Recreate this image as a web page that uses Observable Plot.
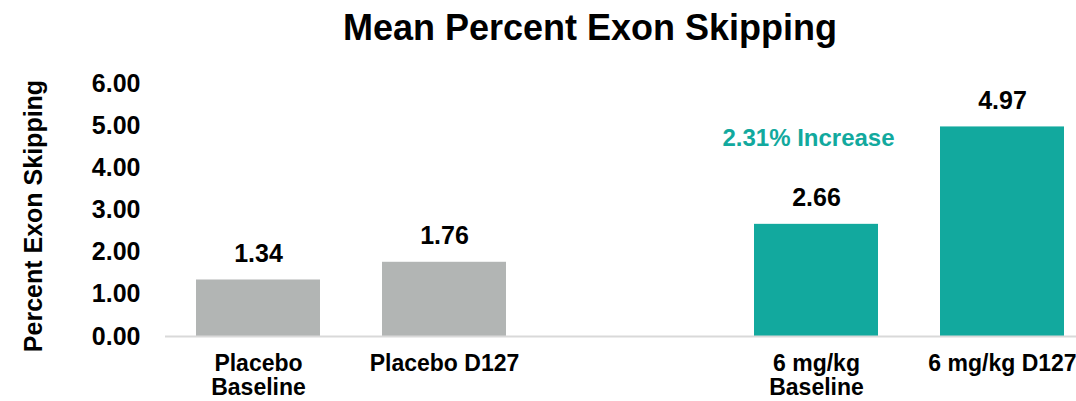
<!DOCTYPE html>
<html><head><meta charset="utf-8">
<script src="https://cdn.jsdelivr.net/npm/d3@7"></script>
<script src="https://cdn.jsdelivr.net/npm/@observablehq/plot@0.6"></script>
<style>
body{margin:0;overflow:hidden;background:#fff;font-family:"Liberation Sans",Arial,sans-serif;}
#title{width:1076px;box-sizing:border-box;padding-left:104px;text-align:center;font-size:36px;font-weight:bold;height:56px;line-height:56px;color:#000;}
#chart svg{overflow:hidden;display:block;}
</style></head><body>
<div id="title">Mean Percent Exon Skipping</div>
<div id="chart"></div>
<script>
const categories = ["Placebo Baseline", "Placebo D127", "", "6 mg/kg Baseline", "6 mg/kg D127"];
const tickLabels = ["Placebo\nBaseline", "Placebo D127", "", "6 mg/kg\nBaseline", "6 mg/kg D127"];
const groups = ["Placebo", "Placebo", null, "6 mg/kg", "6 mg/kg"];
const values = [1.34, 1.76, null, 2.66, 4.97];
const yTicks = [0, 1, 2, 3, 4, 5, 6];
const groupNames = ["Placebo", "6 mg/kg"];
const groupColors = ["#b2b5b4", "#12a99e"];
const annotationText = "2.31% Increase";
const annotationCategory = "6 mg/kg Baseline";
const annotationValue = 4.69;
const yLabel = "Percent Exon Skipping";

const rows = categories.map((c, i) => ({cat: c, group: groups[i], value: values[i]})).filter(d => d.value != null);
const font = '"Liberation Sans", Arial, sans-serif';

const plot = Plot.plot({
  width: 1076, height: 345,
  marginTop: 27, marginBottom: 65, marginLeft: 165, marginRight: 0,
  style: {fontFamily: font, fontSize: "24px", fontWeight: "bold", color: "#000", background: "#fff"},
  x: {domain: categories, range: [165, 1095], paddingInner: 1/3, paddingOuter: 1/6, axis: null},
  y: {domain: [0, 6], axis: null},
  color: {domain: groupNames, range: groupColors},
  marks: [
    Plot.barY(rows, {x: "cat", y: "value", fill: "group"}),
    Plot.ruleY([0], {stroke: "#d9d9d9", strokeWidth: 2}),
    Plot.axisY(yTicks, {tickSize: 0, tickPadding: 25, tickFormat: d3.format(".2f"), label: null, fontSize: 25}),
    Plot.axisX(categories, {tickSize: 0, tickPadding: 17, tickFormat: d => tickLabels[categories.indexOf(d)], label: null, fontSize: 23, lineHeight: 1.05}),
    Plot.text(rows, {x: "cat", y: "value", text: d => d.value.toFixed(2), dy: -26, fontSize: 25}),
    Plot.text([annotationText], {x: () => annotationCategory, y: () => annotationValue, text: d => d, fill: groupColors[1], dx: -8, fontSize: 24}),
    Plot.text([yLabel], {frameAnchor: "left", textAnchor: "middle", text: d => d, rotate: -90, dx: -132, dy: 6, fontSize: 25})
  ]
});
document.getElementById("chart").appendChild(plot);
</script>
</body></html>
